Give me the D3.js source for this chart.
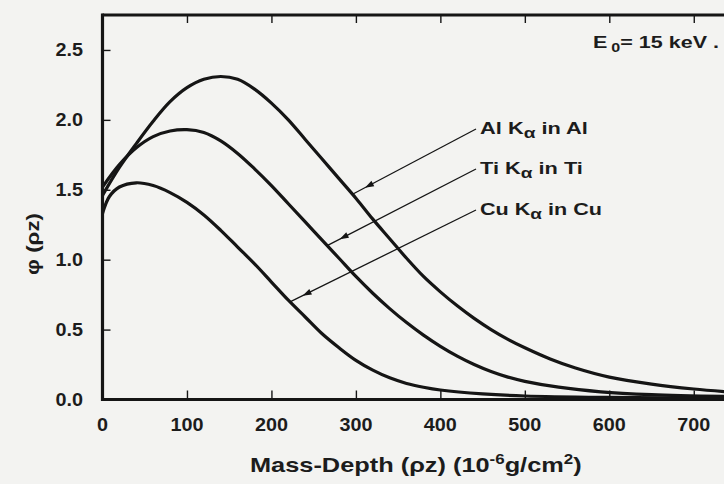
<!DOCTYPE html>
<html>
<head>
<meta charset="utf-8">
<script src="https://cdn.jsdelivr.net/npm/d3@7/dist/d3.min.js"></script>
<style>
  html, body { margin: 0; padding: 0; background: #f3f3f1; }
  svg { display: block; }
  text { font-family: "Liberation Sans", Arial, Helvetica, sans-serif; fill: #1c1c1c; }
</style>
</head>
<body>
<svg id="chart" width="724" height="484"></svg>
<script>
// Mass depth (10^-6 g/cm^2) and phi(rho z) for each characteristic line
const alDepth = [0, 20, 40, 60, 80, 100, 120, 140, 160, 180, 200, 220, 240, 260, 280, 300, 320, 340, 360, 380, 400, 420, 440, 460, 480, 500, 530, 560, 600, 650, 700, 750];
const alPhi   = [1.46, 1.66, 1.83, 1.99, 2.13, 2.23, 2.29, 2.31, 2.29, 2.22, 2.12, 2.00, 1.86, 1.72, 1.58, 1.44, 1.29, 1.15, 1.01, 0.88, 0.77, 0.67, 0.58, 0.50, 0.43, 0.37, 0.29, 0.225, 0.16, 0.11, 0.075, 0.05];

const tiDepth = [0, 20, 40, 60, 80, 100, 120, 140, 160, 180, 200, 220, 240, 260, 280, 300, 320, 340, 360, 380, 400, 420, 440, 460, 480, 500, 540, 590, 650, 750];
const tiPhi   = [1.52, 1.68, 1.80, 1.88, 1.92, 1.93, 1.91, 1.85, 1.76, 1.65, 1.53, 1.40, 1.27, 1.14, 1.01, 0.88, 0.76, 0.65, 0.55, 0.46, 0.38, 0.31, 0.25, 0.20, 0.16, 0.13, 0.088, 0.055, 0.035, 0.02];

const cuDepth = [0, 8, 20, 40, 60, 80, 100, 120, 140, 160, 180, 200, 220, 240, 260, 280, 300, 320, 340, 360, 380, 400, 450, 500, 600, 750];
const cuPhi   = [1.33, 1.45, 1.52, 1.55, 1.53, 1.48, 1.41, 1.32, 1.21, 1.09, 0.97, 0.84, 0.71, 0.59, 0.47, 0.37, 0.28, 0.21, 0.155, 0.115, 0.088, 0.068, 0.04, 0.025, 0.015, 0.01];

const xTicks = [0, 100, 200, 300, 400, 500, 600, 700];
const yTicks = [0.0, 0.5, 1.0, 1.5, 2.0, 2.5];

// Series labels: element, the curve depth each leader points at
const seriesNames  = ["Al", "Ti", "Cu"];
const leaderDepths = [296, 266, 222];

const svg = d3.select("#chart");
const x = d3.scaleLinear().domain([0, 750]).range([102.5, 736]);
const y = d3.scaleLinear().domain([0, 2.75]).range([399.5, 15]);

const ink = "#151515";

// Stretch a text element horizontally about its anchor so it spans a given width
function fitWidth(sel, target, anchorX) {
  const w = sel.node().getComputedTextLength();
  const s = target / w;
  sel.attr("transform", `translate(${anchorX},0) scale(${s},1) translate(${-anchorX},0)`);
}

// Curves
const series = [
  alDepth.map((d, i) => [d, alPhi[i]]),
  tiDepth.map((d, i) => [d, tiPhi[i]]),
  cuDepth.map((d, i) => [d, cuPhi[i]])
];
const line = d3.line().x(d => x(d[0])).y(d => y(d[1])).curve(d3.curveCatmullRom.alpha(0.5));

svg.append("clipPath").attr("id", "plot")
  .append("rect").attr("x", x(0)).attr("y", y(2.75)).attr("width", x(750) - x(0)).attr("height", y(0) - y(2.75));

svg.append("g").attr("clip-path", "url(#plot)")
  .selectAll("path").data(series).join("path")
  .attr("d", line)
  .attr("fill", "none")
  .attr("stroke", ink)
  .attr("stroke-width", 3.2)
  .attr("stroke-linejoin", "round");

// Axes: ticks point into the plot
const xAxisBottom = d3.axisBottom(x).tickValues(xTicks).tickSize(-9).tickFormat("");
const xAxisTop = d3.axisTop(x).tickValues(xTicks).tickSize(-8).tickFormat("");
const yAxis = d3.axisLeft(y).tickValues(yTicks).tickSize(-8).tickFormat("");

function styleAxis(g) {
  g.select(".domain").remove();
  g.selectAll(".tick line").attr("stroke", ink).attr("stroke-width", 1.4);
}
svg.append("g").attr("transform", `translate(0,${y(0)})`).call(xAxisBottom).call(styleAxis);
svg.append("g").attr("transform", `translate(0,${y(2.75)})`).call(xAxisTop).call(styleAxis);
svg.append("g").attr("transform", `translate(${x(0)},0)`).call(yAxis).call(styleAxis);

// Frame lines
svg.append("line").attr("x1", x(0)).attr("x2", 724).attr("y1", y(0)).attr("y2", y(0))
  .attr("stroke", ink).attr("stroke-width", 3.2);
svg.append("line").attr("x1", x(0)).attr("x2", 724).attr("y1", y(2.75)).attr("y2", y(2.75))
  .attr("stroke", ink).attr("stroke-width", 3.2);
svg.append("line").attr("x1", x(0)).attr("x2", x(0)).attr("y1", y(2.75) - 1.6).attr("y2", y(0) + 1.6)
  .attr("stroke", ink).attr("stroke-width", 3.2);

// Tick labels
svg.append("g").selectAll("text").data(xTicks).join("text")
  .attr("x", d => x(d)).attr("y", 431)
  .attr("text-anchor", "middle")
  .attr("font-size", 18).attr("font-weight", "bold")
  .text(d => d)
  .attr("transform", d => `translate(${x(d)},0) scale(1.1,1) translate(${-x(d)},0)`);

svg.append("g").selectAll("text").data(yTicks).join("text")
  .attr("x", 83).attr("y", d => y(d) + 6.5)
  .attr("text-anchor", "end")
  .attr("font-size", 18).attr("font-weight", "bold")
  .text(d => d.toFixed(1))
  .attr("transform", "translate(83,0) scale(1.1,1) translate(-83,0)");

// Axis titles
const xt = svg.append("text").attr("x", 250).attr("y", 472)
  .attr("font-size", 21).attr("font-weight", "bold");
xt.append("tspan").text("Mass-Depth (\u03c1z) (10");
xt.append("tspan").attr("dy", -8).attr("font-size", 14).text("-6");
xt.append("tspan").attr("dy", 8).text("g/cm");
xt.append("tspan").attr("dy", -8).attr("font-size", 14).text("2");
xt.append("tspan").attr("dy", 8).text(")");
fitWidth(xt, 332, 250);

const yt = svg.append("text")
  .attr("x", 0).attr("y", 0)
  .attr("text-anchor", "middle").attr("font-size", 19).attr("font-weight", "bold")
  .text("\u03c6 (\u03c1z)");
const ytw = yt.node().getComputedTextLength();
yt.attr("transform", `translate(39,244) rotate(-90) scale(${62 / ytw},1)`);

// Beam energy
const e0 = svg.append("text").attr("x", 593).attr("y", 48)
  .attr("font-size", 16).attr("font-weight", "bold");
e0.append("tspan").text("E");
e0.append("tspan").attr("dx", 3).attr("dy", 4).attr("font-size", 12).text("0");
e0.append("tspan").attr("dy", -4).text("= 15 keV .");
fitWidth(e0, 122, 593);

// Curve labels with leader arrows
const labelX = 480;
const labelBase = [134, 174, 215];
const labelWidths = [108, 103, 122];
const interp = (xs, ys, v) => {
  const i = Math.max(1, d3.bisectLeft(xs, v));
  const t = (v - xs[i - 1]) / (xs[i] - xs[i - 1]);
  return ys[i - 1] + t * (ys[i] - ys[i - 1]);
};
const depthArrays = [alDepth, tiDepth, cuDepth];
const phiArrays = [alPhi, tiPhi, cuPhi];

seriesNames.forEach((name, i) => {
  const t = svg.append("text").attr("x", labelX).attr("y", labelBase[i])
    .attr("font-size", 16).attr("font-weight", "bold");
  t.append("tspan").text(name + " K");
  t.append("tspan").attr("dy", 4).attr("font-size", 14).text("\u03b1");
  t.append("tspan").attr("dy", -4).text(" in " + name);
  fitWidth(t, labelWidths[i], labelX);

  const sx = labelX - 4, sy = labelBase[i] - 5;
  const d = leaderDepths[i];
  const ex = x(d), ey = y(interp(depthArrays[i], phiArrays[i], d));
  svg.append("line").attr("x1", sx).attr("y1", sy).attr("x2", ex).attr("y2", ey)
    .attr("stroke", ink).attr("stroke-width", 1.3);

  // arrowhead a little short of the curve, pointing toward it
  const len = Math.hypot(sx - ex, sy - ey);
  const ux = (ex - sx) / len, uy = (ey - sy) / len;
  const tipX = ex - ux * 14, tipY = ey - uy * 14;
  const bx = tipX - ux * 9, by = tipY - uy * 9;
  const px = -uy * 3, py = ux * 3;
  svg.append("path")
    .attr("d", `M${tipX},${tipY}L${bx + px},${by + py}L${bx - px},${by - py}Z`)
    .attr("fill", ink);
});
</script>
</body>
</html>
